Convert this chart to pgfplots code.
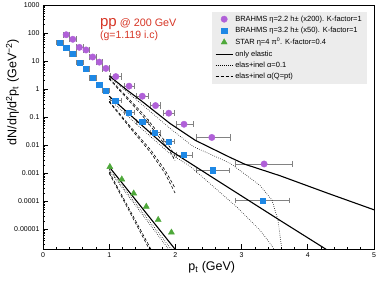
\documentclass[border=0pt]{standalone}
\usepackage{fontspec}
\setmainfont{Liberation Sans}
\usepackage{pgfplots}
\pgfplotsset{compat=1.18}
\definecolor{cpur}{RGB}{176,96,216}
\definecolor{cblu}{RGB}{30,136,229}
\definecolor{cgrn}{RGB}{78,168,58}
\definecolor{cred}{RGB}{214,52,36}
\definecolor{legbg}{RGB}{236,236,236}
\definecolor{ebar}{RGB}{130,130,130}

\pgfplotstableread{
x y em ep
0.35 87 0.05 0.05
0.45 60 0.05 0.05
0.55 31 0.05 0.05
0.65 25 0.05 0.05
0.75 14 0.05 0.05
0.85 9.2 0.05 0.05
0.95 5.5 0.05 0.05
1.10 2.8 0.088 0.084
1.30 1.28 0.076 0.079
1.50 0.56 0.085 0.09
1.70 0.26 0.084 0.067
1.90 0.139 0.083 0.079
2.13 0.056 0.12 0.14
2.55 0.019 0.24 0.275
3.34 0.00215 0.435 0.426
}\purple

\pgfplotstableread{
x y em ep
0.25 46.5 0.05 0.05
0.35 30.8 0.05 0.05
0.45 17.8 0.05 0.05
0.55 9.0 0.05 0.05
0.65 5.2 0.05 0.05
0.75 2.5 0.05 0.05
0.85 1.47 0.05 0.05
0.95 0.88 0.05 0.05
1.09 0.39 0.08 0.09
1.29 0.148 0.07 0.085
1.50 0.068 0.085 0.09
1.69 0.0283 0.075 0.077
1.90 0.0137 0.083 0.079
2.13 0.0045 0.12 0.12
2.56 0.00128 0.25 0.25
3.32 0.000109 0.42 0.40
}\blue

\pgfplotstableread{
x y
1.01 0.0017
1.19 0.00061
1.37 0.000193
1.56 0.000065
1.74 0.000022
1.94 0.0000078
}\green

\begin{document}
\begin{tikzpicture}
\begin{axis}[
 scale only axis, width=331pt, height=244pt,
 xmin=0, xmax=5, ymin=2e-6, ymax=1000, ymode=log,
 xtick={0,1,2,3,4,5}, xticklabels={0,1,2,3,4,5}, minor x tick num=4,
 ytick={1e-5,1e-4,1e-3,1e-2,1e-1,1,10,100,1000},
 yticklabels={0.00001,0.0001,0.001,0.01,0.1,1,10,100,1000},
 minor ytick={2e-6,3e-6,4e-6,5e-6,6e-6,7e-6,8e-6,9e-6,
  2e-5,3e-5,4e-5,5e-5,6e-5,7e-5,8e-5,9e-5,
  2e-4,3e-4,4e-4,5e-4,6e-4,7e-4,8e-4,9e-4,
  2e-3,3e-3,4e-3,5e-3,6e-3,7e-3,8e-3,9e-3,
  0.02,0.03,0.04,0.05,0.06,0.07,0.08,0.09,
  0.2,0.3,0.4,0.5,0.6,0.7,0.8,0.9,
  2,3,4,5,6,7,8,9,20,30,40,50,60,70,80,90,
  200,300,400,500,600,700,800,900},
 tick align=inside, xtick pos=bottom, ytick pos=left,
 major tick length=5pt, minor tick length=2.5pt,
 tick style={black, line width=0.6pt},
 axis line style={line width=0.9pt},
 tick label style={font=\fontsize{7}{8}\selectfont},
 xlabel={p\textsubscript{t} (GeV)},
 ylabel={dN/dη/d\textsuperscript{2}p\textsubscript{t} (GeV\textsuperscript{−2})},
 label style={font=\fontsize{12.5}{14}\selectfont},
 xlabel style={at={(axis description cs:0.51,-0.075)}, anchor=center},
 ylabel style={at={(axis description cs:-0.092,0.643)}, anchor=center},
 legend style={at={(axis description cs:1,1)}, anchor=north east, xshift=-7pt, yshift=-6.5pt,
   fill=legbg, draw=none, font=\fontsize{7.5}{8.6}\selectfont, row sep=0.3pt,
   inner xsep=3pt, inner ysep=2pt},
 legend cell align=left,
 error bars/error bar style={color=ebar, line width=0.7pt},
]
\addplot[only marks, mark=*, mark size=3.2pt, color=cpur, mark options={draw=cpur, fill=cpur},
  error bars/.cd, x dir=both, x explicit]
  table[x=x, y=y, x error minus=em, x error plus=ep] {\purple};
\addlegendentry{BRAHMS η=2.2 h± (x200). K-factor=1}
\addplot[only marks, mark=square*, mark size=2.6pt, color=cblu, mark options={draw=cblu, fill=cblu},
  error bars/.cd, x dir=both, x explicit]
  table[x=x, y=y, x error minus=em, x error plus=ep] {\blue};
\addlegendentry{BRAHMS η=3.2 h± (x50). K-factor=1}
\addplot[only marks, mark=triangle*, mark size=3.5pt, color=cgrn, mark options={draw=cgrn, fill=cgrn}]
  table[x=x, y=y] {\green};
\addlegendentry{STAR η=4 π\textsuperscript{0}. K-factor=0.4}

% solid (only elastic)
\addplot[black, line width=1.1pt, no marks] coordinates {
(1.0,3.0) (1.25,1.0) (1.5,0.36) (1.918,0.06) (2.3,0.015) (2.825,0.0037) (3.05,0.0021) (3.58,0.00082) (4.3,0.000195) (5.0,0.00005)};
\addlegendentry{only elastic}
% dotted
\addplot[black, line width=0.6pt, dash pattern=on 0.6pt off 1.5pt, no marks] coordinates {
(1.0,2.7) (1.47,0.32) (1.918,0.04) (2.266,0.0091) (2.825,0.0023) (3.278,0.00037) (3.46,0.00011) (3.55,0.000021) (3.61,0.0000018)};
\addlegendentry{elas+inel α=0.1}
% dashed
\addplot[black, line width=0.6pt, dash pattern=on 3pt off 2pt, no marks] coordinates {
(1.0,2.45) (1.5,0.14) (1.918,0.0085) (1.994,0.0041)};
\addlegendentry{elas+inel α(Q=pt)}
\addplot[black, line width=0.6pt, dash pattern=on 3pt off 2pt, no marks, forget plot] coordinates {
(1.0,2.3) (1.5,0.115) (1.918,0.0062) (1.994,0.0028)};

% blue group
\addplot[black, line width=1.1pt, no marks, forget plot] coordinates {
(1.0,0.56) (1.465,0.059) (1.918,0.0066) (2.674,0.00048) (3.58,0.000021) (4.3,0.0000018)};
\addplot[black, line width=0.6pt, dash pattern=on 0.6pt off 1.5pt, no marks, forget plot] coordinates {
(1.0,0.44) (1.465,0.044) (1.918,0.005) (2.22,0.0018) (2.93,0.000062) (3.28,0.0000092) (3.43,0.0000032) (3.50,0.0000018)};
\addplot[black, line width=0.6pt, dash pattern=on 3pt off 2pt, no marks, forget plot] coordinates {
(1.0,0.37) (1.314,0.048) (1.631,0.0066) (1.843,0.0013) (1.994,0.0003)};
\addplot[black, line width=0.6pt, dash pattern=on 3pt off 2pt, no marks, forget plot] coordinates {
(1.0,0.35) (1.314,0.042) (1.631,0.0053) (1.843,0.001) (1.994,0.0002)};

% green group
\addplot[black, line width=1.1pt, no marks, forget plot] coordinates {
(1.0,0.0017) (1.5,0.000057) (2.0,0.0000019)};
\addplot[black, line width=0.6pt, dash pattern=on 0.6pt off 1.5pt, no marks, forget plot] coordinates {
(1.0,0.0014) (1.5,0.000042) (1.95,0.0000018)};
\addplot[black, line width=0.6pt, dash pattern=on 0.6pt off 1.5pt, no marks, forget plot] coordinates {
(1.0,0.00125) (1.5,0.000034) (1.91,0.0000018)};
\addplot[black, line width=0.6pt, dash pattern=on 3pt off 2pt, no marks, forget plot] coordinates {
(1.0,0.00112) (1.3,0.000055) (1.645,0.0000017)};
\addplot[black, line width=0.6pt, dash pattern=on 3pt off 2pt, no marks, forget plot] coordinates {
(1.0,0.001) (1.3,0.000046) (1.62,0.0000017)};

\node[anchor=base west, text=cred, inner sep=0pt] at (axis cs:0.86,168)
  {\fontsize{15}{15}\selectfont pp\fontsize{10.8}{11}\selectfont\ @ 200 GeV};
\node[anchor=base west, text=cred, inner sep=0pt] at (axis cs:0.86,63)
  {\fontsize{10.5}{11}\selectfont (g=1.119 i.c)};
\end{axis}
\pgfresetboundingbox
\path[use as bounding box] (current axis.south west) ++(-43pt,-33pt) rectangle ++(380pt,282pt);
\end{tikzpicture}
\end{document}
